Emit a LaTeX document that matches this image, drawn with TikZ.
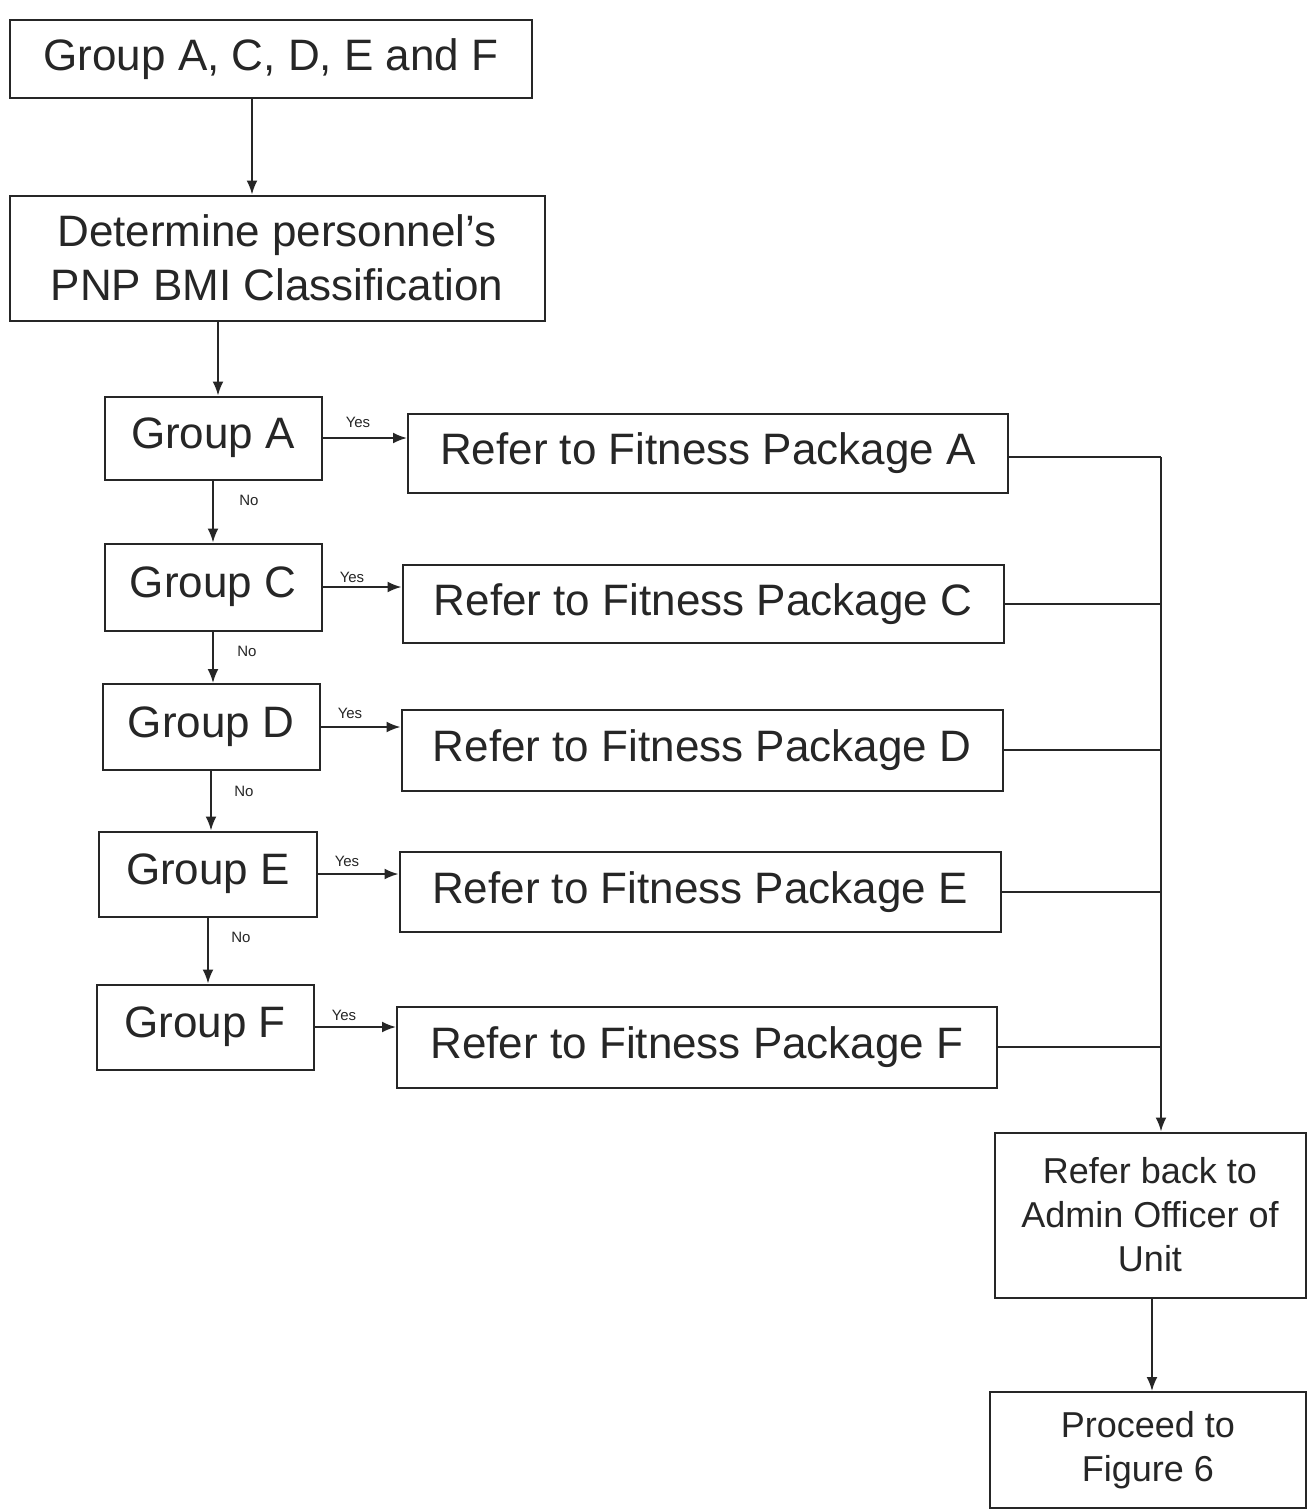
\documentclass[tikz,border=0pt]{standalone}
\usepackage{fontspec}
\setmainfont{Liberation Sans}
\usetikzlibrary{arrows.meta}
\begin{document}
\begin{tikzpicture}[x=0.5pt,y=-0.5pt,
  every node/.style={inner sep=0pt, text=black!85},
  box/.style={draw=black!85, line width=1pt, rectangle, align=center},
  big/.style={font=\fontsize{22}{27}\selectfont},
  mid/.style={font=\fontsize{18}{22}\selectfont},
  tag/.style={font=\fontsize{7.5}{9}\selectfont},
  link/.style={draw=black!85, line width=1pt},
  arr/.style={link, -{Latex[length=7pt,width=5.5pt]}}]
\useasboundingbox[fill=white] (0,0) rectangle (1312,1512);

% start and classification
\node[box,big,minimum width=261pt,minimum height=39pt] (top) at (271,59) {Group A, C, D, E and F};
\node[box,big,minimum width=267.5pt,minimum height=62.5pt] (det) at (277,258) {Determine personnel's\\PNP BMI Classification};

% group decisions
\node[box,big,minimum width=108.5pt,minimum height=41.5pt] (gA) at (213,438) {Group A};
\node[box,big,minimum width=108.5pt,minimum height=43.5pt] (gC) at (213,587) {Group C};
\node[box,big,minimum width=108.5pt,minimum height=43pt] (gD) at (211,727) {Group D};
\node[box,big,minimum width=109pt,minimum height=42.5pt] (gE) at (208,874) {Group E};
\node[box,big,minimum width=108.5pt,minimum height=42.5pt] (gF) at (205,1027) {Group F};

% fitness packages
\node[box,big,minimum width=300pt,minimum height=39.5pt] (pA) at (708,453) {Refer to Fitness Package A};
\node[box,big,minimum width=300.5pt,minimum height=39pt] (pC) at (703,604) {Refer to Fitness Package C};
\node[box,big,minimum width=300.5pt,minimum height=40.5pt] (pD) at (702,750) {Refer to Fitness Package D};
\node[box,big,minimum width=300.5pt,minimum height=40pt] (pE) at (700,892) {Refer to Fitness Package E};
\node[box,big,minimum width=300pt,minimum height=40.5pt] (pF) at (697,1047) {Refer to Fitness Package F};

% closing steps
\node[box,mid,minimum width=155.5pt,minimum height=82.5pt] (back) at (1150,1215) {Refer back to\\Admin Officer of\\Unit};
\node[box,mid,minimum width=158pt,minimum height=58pt] (proc) at (1148,1450) {Proceed to\\Figure 6};

% main flow
\path (top.south) ++(-19,0) coordinate (t1);
\draw[arr] (t1) -- (t1 |- det.north);
\path (det.south -| gA.north) ++(5,0) coordinate (d1);
\draw[arr] (d1) -- (d1 |- gA.north);
\draw[arr] (gA.south) -- (gA.south |- gC.north);
\draw[arr] (gC.south) -- (gC.south |- gD.north);
\draw[arr] (gD.south) -- (gD.south |- gE.north);
\draw[arr] (gE.south) -- (gE.south |- gF.north);

% yes branches
\foreach \g/\p in {gA/pA,gC/pC,gD/pD,gE/pE,gF/pF}
  \draw[arr] (\g.east) -- (\g.east -| \p.west);

\node[tag] (yA) at (358,422) {Yes};
\node[tag] (yC) at (352,577) {Yes};
\node[tag] (yD) at (350,713) {Yes};
\node[tag] (yE) at (347,861) {Yes};
\node[tag] (yF) at (344,1015) {Yes};
\node[tag] (nA) at (249,500) {No};
\node[tag] (nC) at (247,651) {No};
\node[tag] (nD) at (244,791) {No};
\node[tag] (nE) at (241,937) {No};

% collecting line
\coordinate (bus) at (1161,457);
\draw[link] ([yshift=-2pt]pA.east) -- (bus);
\foreach \p in {pC,pD,pE,pF}
  \draw[link] (\p.east) -- (\p.east -| bus);
\draw[arr] (bus) -- (bus |- back.north);
\path (back.south) ++(2,0) coordinate (b1);
\draw[arr] (b1) -- (b1 |- proc.north);
\end{tikzpicture}
\end{document}
